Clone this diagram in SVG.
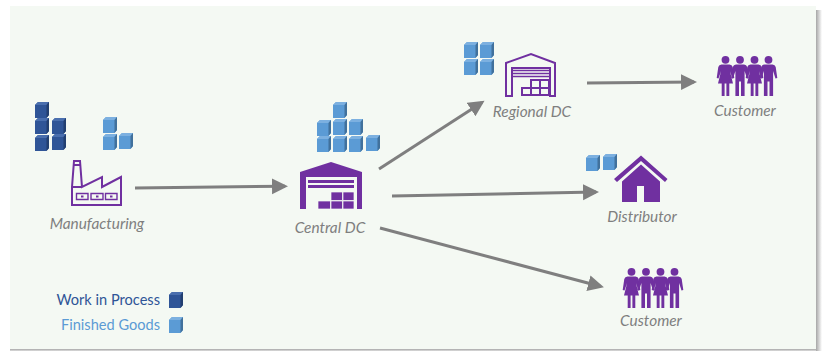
<svg xmlns="http://www.w3.org/2000/svg" width="826" height="351" viewBox="0 0 826 351">
<style>
.lbl{font-family:"Lato","Open Sans",sans-serif;font-style:italic;font-size:15.4px;fill:#7f7f7f;text-anchor:middle}
.leg{font-family:"Lato","Open Sans",sans-serif;font-size:14.6px;text-anchor:end}
.conn{stroke:#7f7f7f;stroke-width:3;fill:none;marker-end:url(#ah)}
.pf{fill:#7030a0}
.po{fill:none;stroke:#7030a0;stroke-width:2}
.pt{fill:none;stroke:#7030a0;stroke-width:1.400}
.pb{fill:#7030a0;stroke:#f4f9f3;stroke-width:.7}
</style>
<defs>
<marker id="ah" markerUnits="userSpaceOnUse" markerWidth="18" markerHeight="18" refX="13" refY="8" orient="auto"><path d="M0 0L16 8L0 16z" fill="#7f7f7f"/></marker>
<linearGradient id="sr"><stop offset="0" stop-color="#a6a6a6"/><stop offset="1" stop-color="#fff"/></linearGradient>
<linearGradient id="sb" x2="0" y2="1"><stop offset="0" stop-color="#a6a6a6"/><stop offset="1" stop-color="#ddd"/></linearGradient>
<g id="cd"><path d="M0 3L3 0H14V13L11.500 16H0z" fill="#2f5597"/><path d="M0 3L3 0H14L11.500 3z" fill="#4a6fae"/><path d="M11.500 3L14 0V13L11.500 16z" fill="#223f70"/></g>
<g id="cl"><path d="M0 3L3 0H14V13L11.500 16H0z" fill="#5b9bd5"/><path d="M0 3L3 0H14L11.500 3z" fill="#7cb0e0"/><path d="M11.500 3L14 0V13L11.500 16z" fill="#41719c"/></g>
<g id="woman" class="pf"><circle cx="0" cy="3.800" r="3.900"/><path d="M-4 8.500H4Q6.500 8.500 7.200 11L8.800 22L7 22.500L4.400 15L7.500 27.500H3.800V40H.9V27.500H-.9V40H-3.800V27.500H-7.500L-4.400 15L-7 22.500L-8.800 22L-7.200 11Q-6.500 8.500 -4 8.500z"/></g>
<g id="man" class="pf"><circle cx="0" cy="3.800" r="3.900"/><path d="M-4 8.500H4Q6.500 8.500 7.200 11L8.800 22L7 22.500L4.600 15V40H1V25.500H-1V40H-4.600V15L-7 22.500L-8.800 22L-7.200 11Q-6.500 8.500 -4 8.500z"/></g>
<g id="people"><use href="#woman" x="8.500"/><use href="#man" x="23"/><use href="#woman" x="37.500"/><use href="#man" x="51.500"/></g>
</defs>
<rect width="826" height="351" fill="#fff"/>
<rect x="816" y="10" width="6" height="341" fill="url(#sr)"/>
<rect x="10" y="349" width="806" height="2" fill="url(#sb)"/>
<rect x="10" y="6" width="806" height="343" fill="#f4f9f3"/>
<g id="connectors">
<path class="conn" d="M135 188L285 186.200"/>
<path class="conn" d="M379 169L482 102.500"/>
<path class="conn" d="M392 196L596 192"/>
<path class="conn" d="M380 228L601 286.500"/>
<path class="conn" d="M587 83L694 82"/>
</g>
<g id="manufacturing">
<use href="#cd" x="35" y="102"/><use href="#cd" x="35" y="118"/><use href="#cd" x="35" y="135"/><use href="#cd" x="52" y="118"/><use href="#cd" x="52" y="134"/>
<use href="#cl" x="103" y="117"/><use href="#cl" x="103" y="134"/><use href="#cl" x="119" y="133"/>
<path class="po" d="M72 205V187L74 161H80L82 187L102 177V187L121 177V205zM72 187H82M74 165H80"/>
<path class="pt" d="M76.500 193.500H88V199.500H76.500zM91 193.500H103V199.500H91zM105.500 193.500H117V199.500H105.500z"/>
<path class="pf" d="M81 195.500h2.500v2h-2.500zM96 195.500h2.500v2h-2.500zM110 195.500h2.500v2h-2.500z"/>
<text class="lbl" x="97" y="229">Manufacturing</text>
</g>
<g id="central-dc">
<use href="#cl" x="333" y="102"/><use href="#cl" x="317" y="120"/><use href="#cl" x="333" y="119"/><use href="#cl" x="349" y="119"/><use href="#cl" x="317" y="136"/><use href="#cl" x="333" y="136"/><use href="#cl" x="349" y="136"/><use href="#cl" x="366" y="135"/>
<path class="pf" d="M300 172L331 162L362 172V209H357V177H306V209H300z"/>
<path class="pf" d="M308 180H354V183H308zM308 185H354V188H308z"/>
<path class="pb" d="M318 201H330.500V209H318zM331 201H342.500V209H331zM343 201H354V209H343zM331 192H342.500V200.500H331zM343 192H354V200.500H343z"/>
<text class="lbl" x="330" y="233">Central DC</text>
</g>
<g id="regional-dc">
<use href="#cl" x="464" y="42"/><use href="#cl" x="480" y="42"/><use href="#cl" x="464" y="59"/><use href="#cl" x="480" y="59"/>
<path class="po" d="M506 96V63L531 54L555 63V96H550V68H512V96z"/>
<path class="pt" d="M512 70.500H550M512 73.500H550M512 76.500H550"/>
<path class="po" d="M522 88H549V95H522zM531 80H549V88H531zM531 88V95M540 80V95"/>
<text class="lbl" x="532" y="117">Regional DC</text>
</g>
<g id="customer-1">
<use href="#people" x="717" y="56"/>
<text class="lbl" x="745" y="116">Customer</text>
</g>
<g id="distributor">
<use href="#cl" x="586" y="155"/><use href="#cl" x="603" y="154"/>
<path class="pf" d="M641 155.500L667.500 179L665 182L641 161L617 182L614 179z"/>
<path class="pf" d="M641 164.500L660 181.500V202H644V186H637V202H622V181.500z"/>
<text class="lbl" x="642" y="222">Distributor</text>
</g>
<g id="customer-2">
<use href="#people" x="623" y="268"/>
<text class="lbl" x="651" y="326">Customer</text>
</g>
<g id="legend">
<text class="leg" x="160" y="305" fill="#2f5597">Work in Process</text>
<use href="#cd" x="169" y="292"/>
<text class="leg" x="160" y="330" fill="#5b9bd5">Finished Goods</text>
<use href="#cl" x="169" y="317"/>
</g>
</svg>
